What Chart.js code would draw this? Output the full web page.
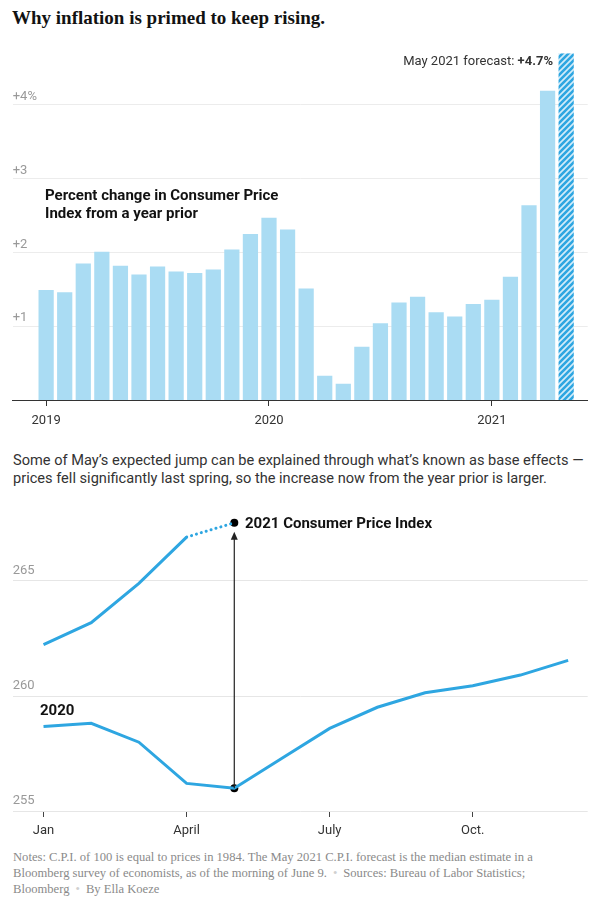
<!DOCTYPE html>
<html lang="en">
<head>
<meta charset="UTF-8" />
<title>Why inflation is primed to keep rising.</title>
<script src="https://cdn.jsdelivr.net/npm/chart.js"></script>
<style>
  body { margin: 0; width: 600px; height: 906px; position: relative; background: #fff; font-family: Roboto, 'Liberation Sans', sans-serif; color: #121212; overflow: hidden; }
  .abs { position: absolute; white-space: nowrap; }
  #title { left: 12px; top: 6px; font: bold 19px/24px 'Liberation Serif', serif; color: #121212; }
  #topWrap { left: 0; top: 40px; width: 600px; height: 390px; }
  #botWrap { left: 0; top: 500px; width: 600px; height: 341px; }
  .lbl { font-family: 'Liberation Sans Narrow', Roboto, sans-serif; font-weight: bold; color: #121212; }
  #forecast { right: 47px; top: 53px; font-size: 13px; line-height: 16px; color: #333; }
  #pctLabel { left: 45px; top: 186px; font-size: 15px; line-height: 18px; }
  #para { left: 13px; top: 452px; font-size: 14.6px; line-height: 17.6px; color: #333; }
  #cpiLabel { left: 245px; top: 514px; font-size: 15px; line-height: 18px; }
  #label2020 { left: 40px; top: 701px; font-size: 15px; line-height: 18px; }
  #notes { left: 13px; top: 849px; font: 12.6px/16px 'Liberation Serif', serif; color: #8a8a8a; }
  .dot { color: #d0d0d0; padding: 0 6px; }
</style>
</head>
<body>
  <div id="title" class="abs">Why inflation is primed to keep rising.</div>

  <div id="topWrap" class="abs"><canvas id="barChart"></canvas></div>
  <div id="forecast" class="abs">May 2021 forecast: <b>+4.7%</b></div>
  <div id="pctLabel" class="abs lbl">Percent change in Consumer Price<br>Index from a year prior</div>

  <div id="para" class="abs">Some of May’s expected jump can be explained through what’s known as base effects —<br>prices fell significantly last spring, so the increase now from the year prior is larger.</div>

  <div id="botWrap" class="abs"><canvas id="lineChart"></canvas></div>
  <div id="cpiLabel" class="abs lbl">2021 Consumer Price Index</div>
  <div id="label2020" class="abs lbl">2020</div>

  <div id="notes" class="abs">Notes: C.P.I. of 100 is equal to prices in 1984. The May 2021 C.P.I. forecast is the median estimate in a<br>Bloomberg survey of economists, as of the morning of June 9.<span class="dot">•</span>Sources: Bureau of Labor Statistics;<br>Bloomberg<span class="dot">•</span>By Ella Koeze</div>

<script>
  // top chart: percent change in CPI from a year prior, Jan 2019 .. May 2021
  const pctChange = [
    1.49, 1.46, 1.85, 2.01, 1.82, 1.70, 1.81, 1.74, 1.72, 1.77, 2.04, 2.25,
    2.47, 2.31, 1.51, 0.33, 0.22, 0.72, 1.04, 1.32, 1.40, 1.19, 1.13, 1.30,
    1.36, 1.67, 2.64, 4.19, 4.70
  ];
  const forecastIndex = 28;
  const yearTickIdx = [0, 12, 24];
  const yearTickLabels = ['2019', '2020', '2021'];
  const pctTicks = [1, 2, 3, 4];
  const pctTickLabels = ['+1', '+2', '+3', '+4%'];

  // bottom chart: CPI index levels by month
  const cpi2020 = [258.67, 258.81, 257.99, 256.20, 255.99, 257.29, 258.59, 259.51, 260.14, 260.45, 260.91, 261.55];
  const cpi2021 = [262.23, 263.19, 264.90, 266.91];
  const cpi2021May = 267.53;
  const monthTickIdx = [0, 3, 6, 9];
  const monthTickLabels = ['Jan', 'April', 'July', 'Oct.'];
  const cpiTicks = [255, 260, 265];

  const lightBlue = '#aadcf3';
  const lineBlue = '#2ea6e1';

  function hatch() {
    const c = document.createElement('canvas');
    c.width = 6; c.height = 6;
    const g = c.getContext('2d');
    g.fillStyle = '#d2ecf9';
    g.fillRect(0, 0, 6, 6);
    g.strokeStyle = lineBlue;
    g.lineWidth = 2.6;
    g.beginPath();
    g.moveTo(-1, 7); g.lineTo(7, -1);
    g.moveTo(-4, 4); g.lineTo(4, -4);
    g.moveTo(2, 10); g.lineTo(10, 2);
    g.stroke();
    return g.createPattern(c, 'repeat');
  }

  const barColors = pctChange.map((_, i) => i === forecastIndex ? hatch() : lightBlue);

  new Chart(document.getElementById('barChart'), {
    type: 'bar',
    data: {
      datasets: [{
        data: pctChange.map((v, i) => ({ x: i, y: v })),
        backgroundColor: barColors,
        borderWidth: 0,
        barPercentage: 0.82,
        categoryPercentage: 1
      }]
    },
    options: {
      responsive: true,
      maintainAspectRatio: false,
      animation: false,
      layout: { padding: { left: 12.7, right: 12.3, top: 13.2, bottom: 0 } },
      plugins: { legend: { display: false }, tooltip: { enabled: false } },
      scales: {
        x: {
          type: 'linear',
          offset: false,
          min: -1.8,
          max: 29.16,
          afterBuildTicks: s => { s.ticks = yearTickIdx.map(v => ({ value: v })); },
          afterFit: s => { s.height = 30; },
          ticks: {
            padding: 7,
            color: '#333',
            font: { family: 'Roboto', size: 13 },
            callback: v => yearTickLabels[yearTickIdx.indexOf(v)]
          },
          grid: { offset: false, drawOnChartArea: false, drawTicks: true, tickLength: 6, color: '#333' },
          border: { display: true, color: '#333', width: 1 }
        },
        y: {
          min: 0,
          max: 4.7,
          afterBuildTicks: s => { s.ticks = pctTicks.map(v => ({ value: v })); },
          ticks: {
            mirror: true,
            padding: 0,
            labelOffset: -8,
            color: '#999',
            font: { family: 'Roboto', size: 13 },
            callback: v => pctTickLabels[pctTicks.indexOf(v)]
          },
          grid: { color: '#ececec', drawTicks: false },
          border: { display: false }
        }
      }
    }
  });

  const arrowPlugin = {
    id: 'arrow',
    afterDatasetsDraw(chart) {
      const { ctx, scales: { x, y } } = chart;
      const px = x.getPixelForValue(4);
      const yFrom = y.getPixelForValue(cpi2020[4]);
      const tip = y.getPixelForValue(cpi2021May) + 9;
      ctx.save();
      ctx.strokeStyle = '#222';
      ctx.fillStyle = '#222';
      ctx.lineWidth = 1.2;
      ctx.beginPath();
      ctx.moveTo(px, yFrom);
      ctx.lineTo(px, tip + 5);
      ctx.stroke();
      ctx.beginPath();
      ctx.moveTo(px, tip);
      ctx.lineTo(px - 3.5, tip + 8);
      ctx.lineTo(px + 3.5, tip + 8);
      ctx.closePath();
      ctx.fill();
      ctx.restore();
    }
  };

  new Chart(document.getElementById('lineChart'), {
    type: 'line',
    data: {
      datasets: [
        {
          data: cpi2020.map((v, i) => ({ x: i, y: v })),
          borderColor: lineBlue, borderWidth: 3, pointRadius: 0, tension: 0
        },
        {
          data: cpi2021.map((v, i) => ({ x: i, y: v })),
          borderColor: lineBlue, borderWidth: 3, pointRadius: 0, tension: 0
        },
        {
          data: [{ x: 3, y: cpi2021[3] }, { x: 4, y: cpi2021May }],
          borderColor: lineBlue, borderWidth: 3, pointRadius: 0,
          borderDash: [0.1, 5], borderCapStyle: 'round'
        },
        {
          data: [{ x: 4, y: cpi2020[4] }, { x: 4, y: cpi2021May }],
          showLine: false, pointRadius: 4, pointBackgroundColor: '#000', pointBorderWidth: 0
        }
      ]
    },
    options: {
      responsive: true,
      maintainAspectRatio: false,
      animation: false,
      layout: { padding: { left: 12.7, right: 12.3, top: 12, bottom: 0 } },
      plugins: { legend: { display: false }, tooltip: { enabled: false } },
      scales: {
        x: {
          type: 'linear',
          min: -0.646,
          max: 11.41,
          afterBuildTicks: s => { s.ticks = monthTickIdx.map(v => ({ value: v })); },
          afterFit: s => { s.height = 30; },
          ticks: {
            padding: 5.5,
            color: '#333',
            font: { family: 'Roboto', size: 13 },
            callback: v => monthTickLabels[monthTickIdx.indexOf(v)]
          },
          grid: { drawOnChartArea: false, drawTicks: true, tickLength: 6, color: '#444' },
          border: { display: false }
        },
        y: {
          min: 255,
          max: 268,
          afterBuildTicks: s => { s.ticks = cpiTicks.map(v => ({ value: v })); },
          ticks: {
            mirror: true,
            padding: 0,
            labelOffset: -10,
            color: '#999',
            font: { family: 'Roboto', size: 13 },
            callback: v => String(v)
          },
          grid: { color: '#e6e6e6', drawTicks: false },
          border: { display: false }
        }
      }
    },
    plugins: [arrowPlugin]
  });
</script>
</body>
</html>
